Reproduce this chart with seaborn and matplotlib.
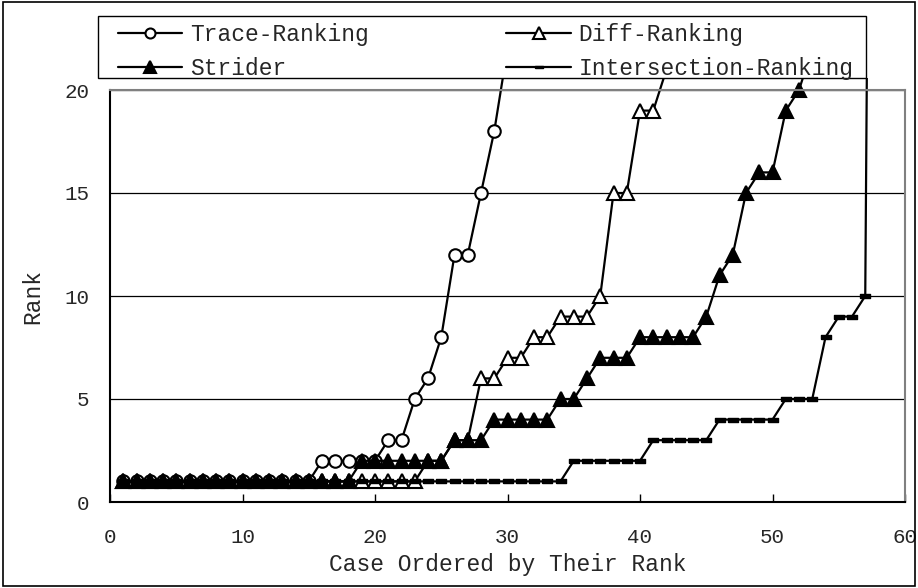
import matplotlib
matplotlib.use("Agg")
import matplotlib.pyplot as plt
import seaborn as sns
import numpy as np
from matplotlib.patches import Rectangle

# rank of each case, cases ordered by their rank (x = 1, 2, 3, ...)
trace_rank = [1, 1, 1, 1, 1, 1, 1, 1, 1, 1, 1, 1, 1, 1, 1,
              2, 2, 2, 2, 2, 3, 3, 5, 6, 8, 12, 12, 15, 18, 22]
diff_rank = [1, 1, 1, 1, 1, 1, 1, 1, 1, 1, 1, 1, 1, 1, 1, 1, 1, 1, 1, 1, 1, 1, 1,
             2, 2, 3, 3, 6, 6, 7, 7, 8, 8, 9, 9, 9, 10, 15, 15, 19, 19, 21]
strider_rank = [1, 1, 1, 1, 1, 1, 1, 1, 1, 1, 1, 1, 1, 1, 1, 1, 1, 1,
                2, 2, 2, 2, 2, 2, 2, 3, 3, 3, 4, 4, 4, 4, 4, 5, 5, 6, 7, 7, 7,
                8, 8, 8, 8, 8, 9, 11, 12, 15, 16, 16, 19, 20, 22]
inter_rank = [1, 1, 1, 1, 1, 1, 1, 1, 1, 1, 1, 1, 1, 1, 1, 1, 1,
              1, 1, 1, 1, 1, 1, 1, 1, 1, 1, 1, 1, 1, 1, 1, 1, 1,
              2, 2, 2, 2, 2, 2, 3, 3, 3, 3, 3, 4, 4, 4, 4, 4, 5, 5, 5,
              8, 9, 9, 10, 100]

names = ["Trace-Ranking", "Diff-Ranking", "Strider", "Intersection-Ranking"]
x_ticks = [0, 10, 20, 30, 40, 50, 60]
y_ticks = [0, 5, 10, 15, 20]

sns.set_style("white")
plt.rcParams['font.family'] = ['Liberation Mono', 'DejaVu Sans Mono']

W, H = 918, 588
fig = plt.figure(figsize=(W/100, H/100), dpi=100)
ax = fig.add_axes([110/W, 1-502/H, 795/W, 412/H])

bar = [(-1, -0.38), (1, -0.38), (1, 0.38), (-1, 0.38), (-1, -0.38)]
styles = [("o", "white", 9, 1.5), ("^", "white", 10, 1.5),
          ("^", "black", 10, 1.5), (bar, "black", 7, 1.0)]
data = [trace_rank, diff_rank, strider_rank, inter_rank]

# lines run a little above the plot area, up to the legend box
clip = Rectangle((0, 0), 1, 1 + 12/412, transform=ax.transAxes)
for name, vals, (mk, fc, ms, mew) in zip(names, data, styles):
    x = np.arange(1, len(vals) + 1)
    sns.lineplot(x=x, y=vals, ax=ax, color="black", linewidth=1.6,
                 marker=mk, markersize=ms, markerfacecolor=fc,
                 markeredgecolor="black", markeredgewidth=mew, label=name)
for line in ax.get_lines():
    line.set_clip_path(clip)

ax.set_xlim(0, 60)
ax.set_ylim(0, 20)
ax.set_xticks(x_ticks)
ax.set_yticks(y_ticks)
ax.yaxis.grid(True, color="black", linewidth=0.9)
ax.xaxis.grid(False)
ax.tick_params(axis="x", direction="in", length=6, width=1, color="black",
               labelsize=15, pad=19, top=False, bottom=True)
ax.tick_params(axis="y", length=0, labelsize=15, pad=15)
for s in ["left", "bottom"]:
    ax.spines[s].set_color("black")
    ax.spines[s].set_linewidth(1.5)
for s in ["top", "right"]:
    ax.spines[s].set_color("#808080")
    ax.spines[s].set_linewidth(1.5)

ax.set_xlabel("Case Ordered by Their Rank", fontsize=16.5)
ax.set_ylabel("Rank", fontsize=16.5)
ax.xaxis.set_label_coords(0.5, -(553-502)/412)
ax.yaxis.set_label_coords(-(110-44)/795, 0.5)

# legend box drawn by hand, entries placed inside it
fig.patches.append(Rectangle((98/W, 1-78/H), (866-98)/W, 62/H, transform=fig.transFigure,
                             facecolor="white", edgecolor="black", linewidth=1.0, zorder=1))
handles, labels = ax.get_legend_handles_labels()
ax.get_legend().remove()
order = [0, 2, 1, 3]
leg = fig.legend([handles[i] for i in order], [labels[i] for i in order], ncol=2,
                 loc="upper left", bbox_to_anchor=(118/W, 1-23/H),
                 frameon=False, borderaxespad=0, borderpad=0, handlelength=2.8,
                 handletextpad=0.35, labelspacing=0.47, columnspacing=6.0,
                 fontsize=16.5, markerscale=0.8)

fig.patches.append(Rectangle((0.003, 0.004), 0.994, 0.992, transform=fig.transFigure,
                             fill=False, edgecolor="black", linewidth=1.2))

fig.savefig("out.png", dpi=100)
